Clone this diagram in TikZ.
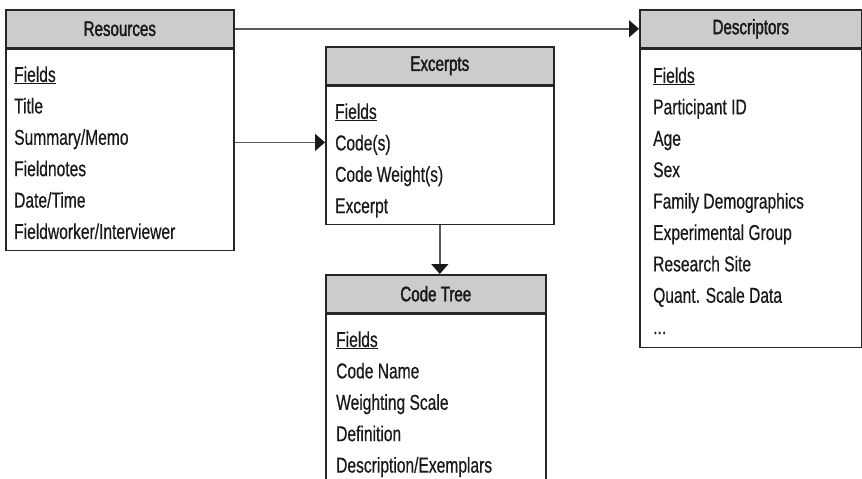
\documentclass[tikz,border=0pt]{standalone}
\usepackage{fontspec}
\setmainfont[FakeStretch=0.725,FakeBold=0.5]{Liberation Sans}
\newfontfamily\headfont[FakeStretch=0.72,FakeBold=1.6]{Liberation Sans}
\usetikzlibrary{positioning,arrows.meta}
\tikzset {
    style head/.style={
        fill=black!20,
        draw=black!85,
        line width=1.6pt,
        rectangle, % Set the shape as a rectangle
        minimum height=38pt,
        inner sep=0pt,
        text=black!90,
        font=\headfont\fontsize{21}{24}\selectfont,
    },
    style body/.style={
        draw=black!85,
        line width=1.6pt,
        rectangle, % Set the shape as a rectangle
        inner sep=0pt,
    },
    style list/.style={
        inner sep=0pt,
        align=left,
        text=black!90,
        font=\fontsize{21.5}{31.4}\selectfont,
    },
    style link/.style={
        draw=black!65,
        line width=1.6pt,
        -{Triangle[length=10pt,width=17pt,color=black!90]},
    },
}

\begin{document}
\begin{tikzpicture}[x=1pt,y=-1pt]
        \useasboundingbox (0,0) rectangle (862,479);

        % Resources
        \node[style head, minimum width=228pt, anchor=north west] (res head) at (5,9) {Resources};
        \node[style body, minimum width=228pt, minimum height=201pt, below=0pt of res head] (res body) {};
        \node[style list, below right=17.6pt and 9pt of res body.north west] (res list)
            {\underline{Fields}\\Title\\Summary/Memo\\Fieldnotes\\Date/Time\\Fieldworker/Interviewer};

        % Excerpts
        \node[style head, minimum width=228pt, anchor=north west] (exc head) at (325,46) {Excerpts};
        \node[style body, minimum width=228pt, minimum height=138pt, below=0pt of exc head] (exc body) {};
        \node[style list, below right=17.6pt and 10pt of exc body.north west] (exc list)
            {\underline{Fields}\\Code(s)\\Code Weight(s)\\Excerpt};

        % Code Tree
        \node[style head, minimum width=220pt, anchor=north west] (code head) at (325,274) {Code Tree};
        \node[style body, minimum width=220pt, minimum height=220pt, below=0pt of code head] (code body) {};
        \node[style list, below right=17.6pt and 11pt of code body.north west] (code list)
            {\underline{Fields}\\Code Name\\Weighting Scale\\Definition\\Description/Exemplars};

        % Descriptors
        \node[style head, minimum width=222pt, anchor=north west] (desc head) at (639,9) {Descriptors};
        \node[style body, minimum width=222pt, minimum height=298pt, below=0pt of desc head] (desc body) {};
        \node[style list, below right=18.6pt and 14pt of desc body.north west] (desc list)
            {\underline{Fields}\\Participant ID\\Age\\Sex\\Family Demographics\\Experimental Group\\Research Site\\Quant. Scale Data\\...};

        % links between the tables
        \coordinate (codes) at ([yshift=13pt]exc body.west);
        \draw[style link] (res head.east) -- (desc head.west);
        \draw[style link] (res body.east |- codes) -- (codes);
        \draw[style link] (exc body.south) -- (exc body.south |- code head.north);

    \end{tikzpicture}
\end{document}
